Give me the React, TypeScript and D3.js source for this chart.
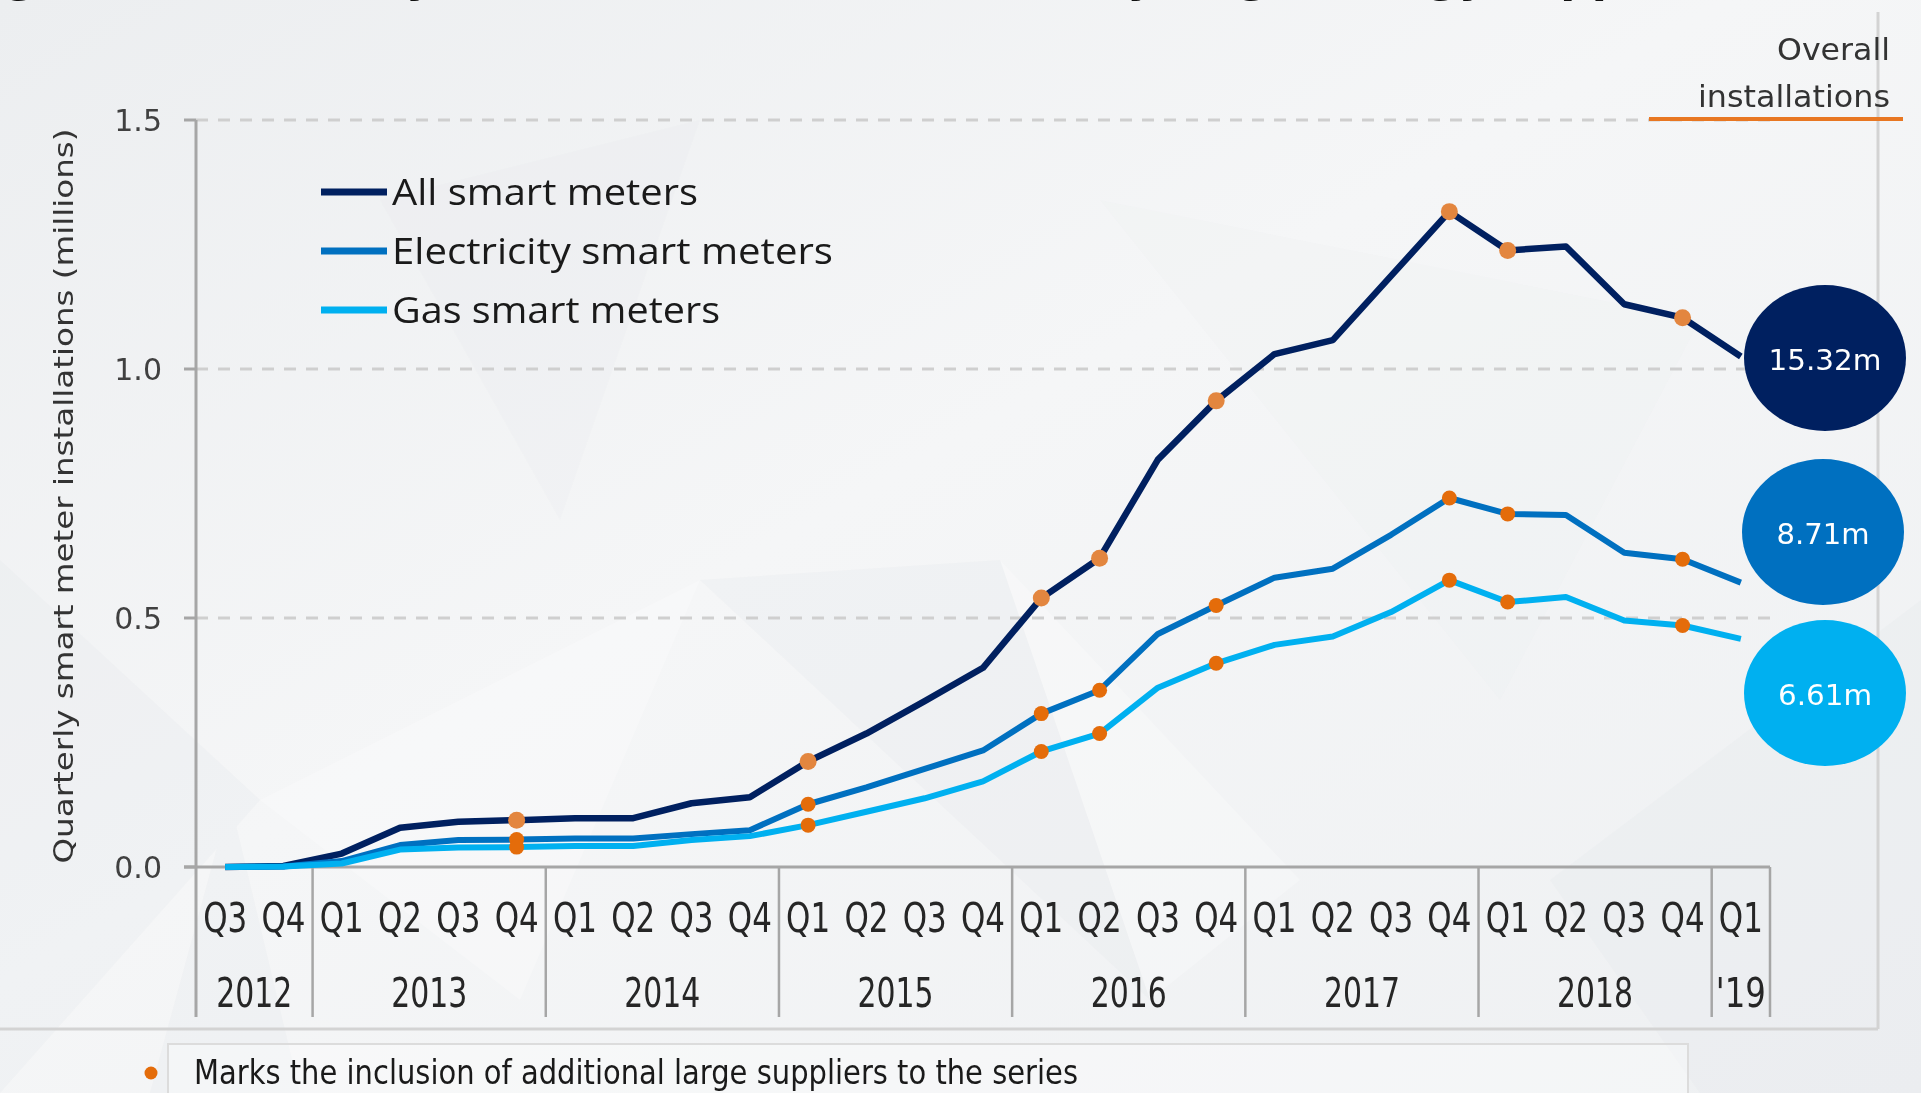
import React, { useEffect } from "react";
import * as d3 from "d3";

const quarters = ["Q3","Q4","Q1","Q2","Q3","Q4","Q1","Q2","Q3","Q4","Q1","Q2","Q3","Q4","Q1","Q2","Q3","Q4","Q1","Q2","Q3","Q4","Q1","Q2","Q3","Q4","Q1"];
const years = ["2012","2013","2014","2015","2016","2017","2018","'19"];
const yearStart = [0, 2, 6, 10, 14, 18, 22, 26];
const yearEnd = [2, 6, 10, 14, 18, 22, 26, 27];

const allMeters = [0, 0.002, 0.027, 0.079, 0.091, 0.094, 0.098, 0.098, 0.128, 0.14, 0.212, 0.268, 0.333, 0.4, 0.54, 0.62, 0.818, 0.936, 1.03, 1.058, 1.187, 1.316, 1.238, 1.246, 1.13, 1.103, 1.025];
const elecMeters = [0, 0.001, 0.012, 0.044, 0.054, 0.055, 0.057, 0.057, 0.066, 0.074, 0.126, 0.16, 0.197, 0.234, 0.308, 0.355, 0.468, 0.525, 0.581, 0.599, 0.667, 0.741, 0.709, 0.707, 0.631, 0.618, 0.571];
const gasMeters = [0, 0.001, 0.007, 0.035, 0.039, 0.04, 0.042, 0.042, 0.054, 0.062, 0.084, 0.111, 0.138, 0.172, 0.232, 0.268, 0.36, 0.409, 0.446, 0.463, 0.512, 0.576, 0.532, 0.542, 0.495, 0.485, 0.458];
const markedIdx = [5, 10, 14, 15, 17, 21, 22, 25];
const yTicks = [0, 0.5, 1.0, 1.5];
const seriesNames = ["All smart meters", "Electricity smart meters", "Gas smart meters"];
const totals = ["15.32m", "8.71m", "6.61m"];

const colors = ["#002060", "#0070C0", "#00B0F0"];
const orange = "#E46C0A";

export default function App() {
  useEffect(() => {
    document.body.style.margin = "0";
    document.body.style.overflow = "hidden";
  }, []);

  const W = 1921, H = 1093;
  const x = d3.scaleBand<number>().domain(d3.range(quarters.length)).range([196, 1770]).padding(0);
  const cx = (i: number) => (x(i) as number) + x.bandwidth() / 2;
  const y = d3.scaleLinear().domain([0, 1.5]).range([867, 120]);
  const series = [allMeters, elecMeters, gasMeters];
  const line = d3.line<number>().x((_, i) => cx(i)).y((d) => y(d)).curve(d3.curveLinear);

  const legendY = [192, 251, 310];
  const legendLen = [306, 441, 328];
  const ellipseC = [[1825, 358], [1823, 532], [1825, 693]];
  const totalLen = [113, 93, 94];

  const narrow = "'Liberation Sans Narrow', 'DejaVu Sans Condensed', 'Roboto', sans-serif";
  const dejavu = "'DejaVu Sans', Verdana, sans-serif";

  return (
    <svg width={W} height={H} viewBox={`0 0 ${W} ${H}`} style={{ display: "block" }}>
      <defs>
        <linearGradient id="bg" x1="0" y1="0" x2="1" y2="1">
          <stop offset="0" stopColor="#eceef0" />
          <stop offset="0.45" stopColor="#f5f6f7" />
          <stop offset="1" stopColor="#eef0f2" />
        </linearGradient>
      </defs>
      <rect x={0} y={0} width={W} height={H} fill="url(#bg)" />
      {/* faint low-poly texture */}
      <g fill="#e3e6ea" opacity={0.25}>
        <polygon points="0,560 260,800 0,1093" />
        <polygon points="230,800 300,1093 150,1093" />
        <polygon points="700,580 1000,560 1150,1000" />
        <polygon points="1100,200 1700,320 1500,700" opacity={0.4} />
        <polygon points="1550,880 1921,600 1921,1093 1700,1093" />
        <polygon points="380,200 700,120 560,520" opacity={0.5} />
      </g>
      <g fill="#ffffff" opacity={0.25}>
        <polygon points="260,800 700,580 520,1000" />
        <polygon points="1000,560 1300,880 1150,1000" />
      </g>

      {/* clipped title: only the descender tips show, as in the source */}
      <text x={-40} y={-8} fontFamily={dejavu} fontWeight="bold" fontSize={44} fill="#111">
        Figure 1: Quarterly smart meter installations by large energy suppliers
      </text>

      {/* frame */}
      <line x1={1878} y1={12} x2={1878} y2={1029} stroke="#d3d3d3" strokeWidth={3} />
      <line x1={0} y1={1029} x2={1878} y2={1029} stroke="#d3d3d3" strokeWidth={3} />

      {/* gridlines */}
      {yTicks.filter((t) => t > 0).map((t) => (
        <line key={t} x1={196} x2={1770} y1={y(t)} y2={y(t)} stroke="#cfcfcf" strokeWidth={3} strokeDasharray="12 10" />
      ))}
      {/* y ticks and labels */}
      {yTicks.map((t) => (
        <g key={"yt" + t}>
          <line x1={184} x2={196} y1={y(t)} y2={y(t)} stroke="#a6a6a6" strokeWidth={3} />
          <text x={162} y={y(t)} dy="0.36em" textAnchor="end" fontFamily={dejavu} fontSize={30} fill="#404040">
            {d3.format(".1f")(t)}
          </text>
        </g>
      ))}
      <text transform="translate(64,496) rotate(-90)" textAnchor="middle" dy="0.35em" fontFamily={dejavu} fontSize={27} fill="#333" textLength={735} lengthAdjust="spacingAndGlyphs">
        Quarterly smart meter installations (millions)
      </text>

      {/* axes */}
      <line x1={196} x2={196} y1={120} y2={1017} stroke="#a6a6a6" strokeWidth={3} />
      <line x1={184} x2={1770} y1={y(0)} y2={y(0)} stroke="#a6a6a6" strokeWidth={3} />
      {yearEnd.map((k) => (
        <line key={"sep" + k} x1={(x(k - 1) as number) + x.bandwidth()} x2={(x(k - 1) as number) + x.bandwidth()} y1={y(0)} y2={1017} stroke="#a6a6a6" strokeWidth={2.5} />
      ))}
      {quarters.map((q, i) => (
        <text key={"q" + i} x={cx(i)} y={918} dy="0.35em" textAnchor="middle" fontFamily={narrow} fontSize={40} fill="#262626" textLength={44} lengthAdjust="spacingAndGlyphs">
          {q}
        </text>
      ))}
      {years.map((yr, j) => {
        const x0 = x(yearStart[j]) as number;
        const x1 = (x(yearEnd[j] - 1) as number) + x.bandwidth();
        return (
          <text key={"y" + yr} x={(x0 + x1) / 2} y={993} dy="0.35em" textAnchor="middle" fontFamily={narrow} fontSize={40} fill="#262626" textLength={yr.length === 4 ? 76 : 50} lengthAdjust="spacingAndGlyphs">
            {yr}
          </text>
        );
      })}

      {/* series lines */}
      {series.map((s, k) => (
        <path key={"l" + k} d={line(s) || ""} fill="none" stroke={colors[k]} strokeWidth={k === 0 ? 6.5 : 6} strokeLinejoin="round" />
      ))}
      {series.map((s, k) =>
        markedIdx.map((i) => (
          <circle key={"d" + k + "-" + i} cx={cx(i)} cy={y(s[i])} r={k === 0 ? 8.5 : 7.5} fill={k === 0 ? "#E3863F" : orange} />
        ))
      )}

      {/* legend */}
      {seriesNames.map((n, k) => (
        <g key={"lg" + k}>
          <line x1={321} x2={387} y1={legendY[k]} y2={legendY[k]} stroke={colors[k]} strokeWidth={7} />
          <text x={392} y={legendY[k]} dy="0.35em" fontFamily="'Open Sans', sans-serif" fontSize={37} fill="#1a1a1a" textLength={legendLen[k]} lengthAdjust="spacingAndGlyphs">
            {n}
          </text>
        </g>
      ))}

      {/* overall installations */}
      <text x={1890} y={49} dy="0.35em" textAnchor="end" fontFamily={dejavu} fontSize={30} fill="#333" textLength={113} lengthAdjust="spacingAndGlyphs">Overall</text>
      <text x={1890} y={96} dy="0.35em" textAnchor="end" fontFamily={dejavu} fontSize={30} fill="#333" textLength={192} lengthAdjust="spacingAndGlyphs">installations</text>
      <line x1={1649} x2={1903} y1={119} y2={119} stroke="#E87722" strokeWidth={4} />
      {totals.map((t, k) => (
        <g key={"e" + k}>
          <ellipse cx={ellipseC[k][0]} cy={ellipseC[k][1]} rx={81} ry={73} fill={colors[k]} />
          <text x={ellipseC[k][0]} y={ellipseC[k][1] + 2} dy="0.36em" textAnchor="middle" fontFamily={dejavu} fontSize={29} fill="#ffffff" textLength={totalLen[k]} lengthAdjust="spacingAndGlyphs">
            {t}
          </text>
        </g>
      ))}

      {/* footnote */}
      <rect x={168} y={1044} width={1520} height={70} fill="#ffffff" fillOpacity={0.35} stroke="#dcdcdc" strokeWidth={2} />
      <circle cx={151} cy={1073} r={6.5} fill={orange} />
      <text x={194} y={1072} dy="0.35em" fontFamily={narrow} fontSize={34} fill="#1a1a1a" textLength={884} lengthAdjust="spacingAndGlyphs">
        Marks the inclusion of additional large suppliers to the series
      </text>
    </svg>
  );
}
